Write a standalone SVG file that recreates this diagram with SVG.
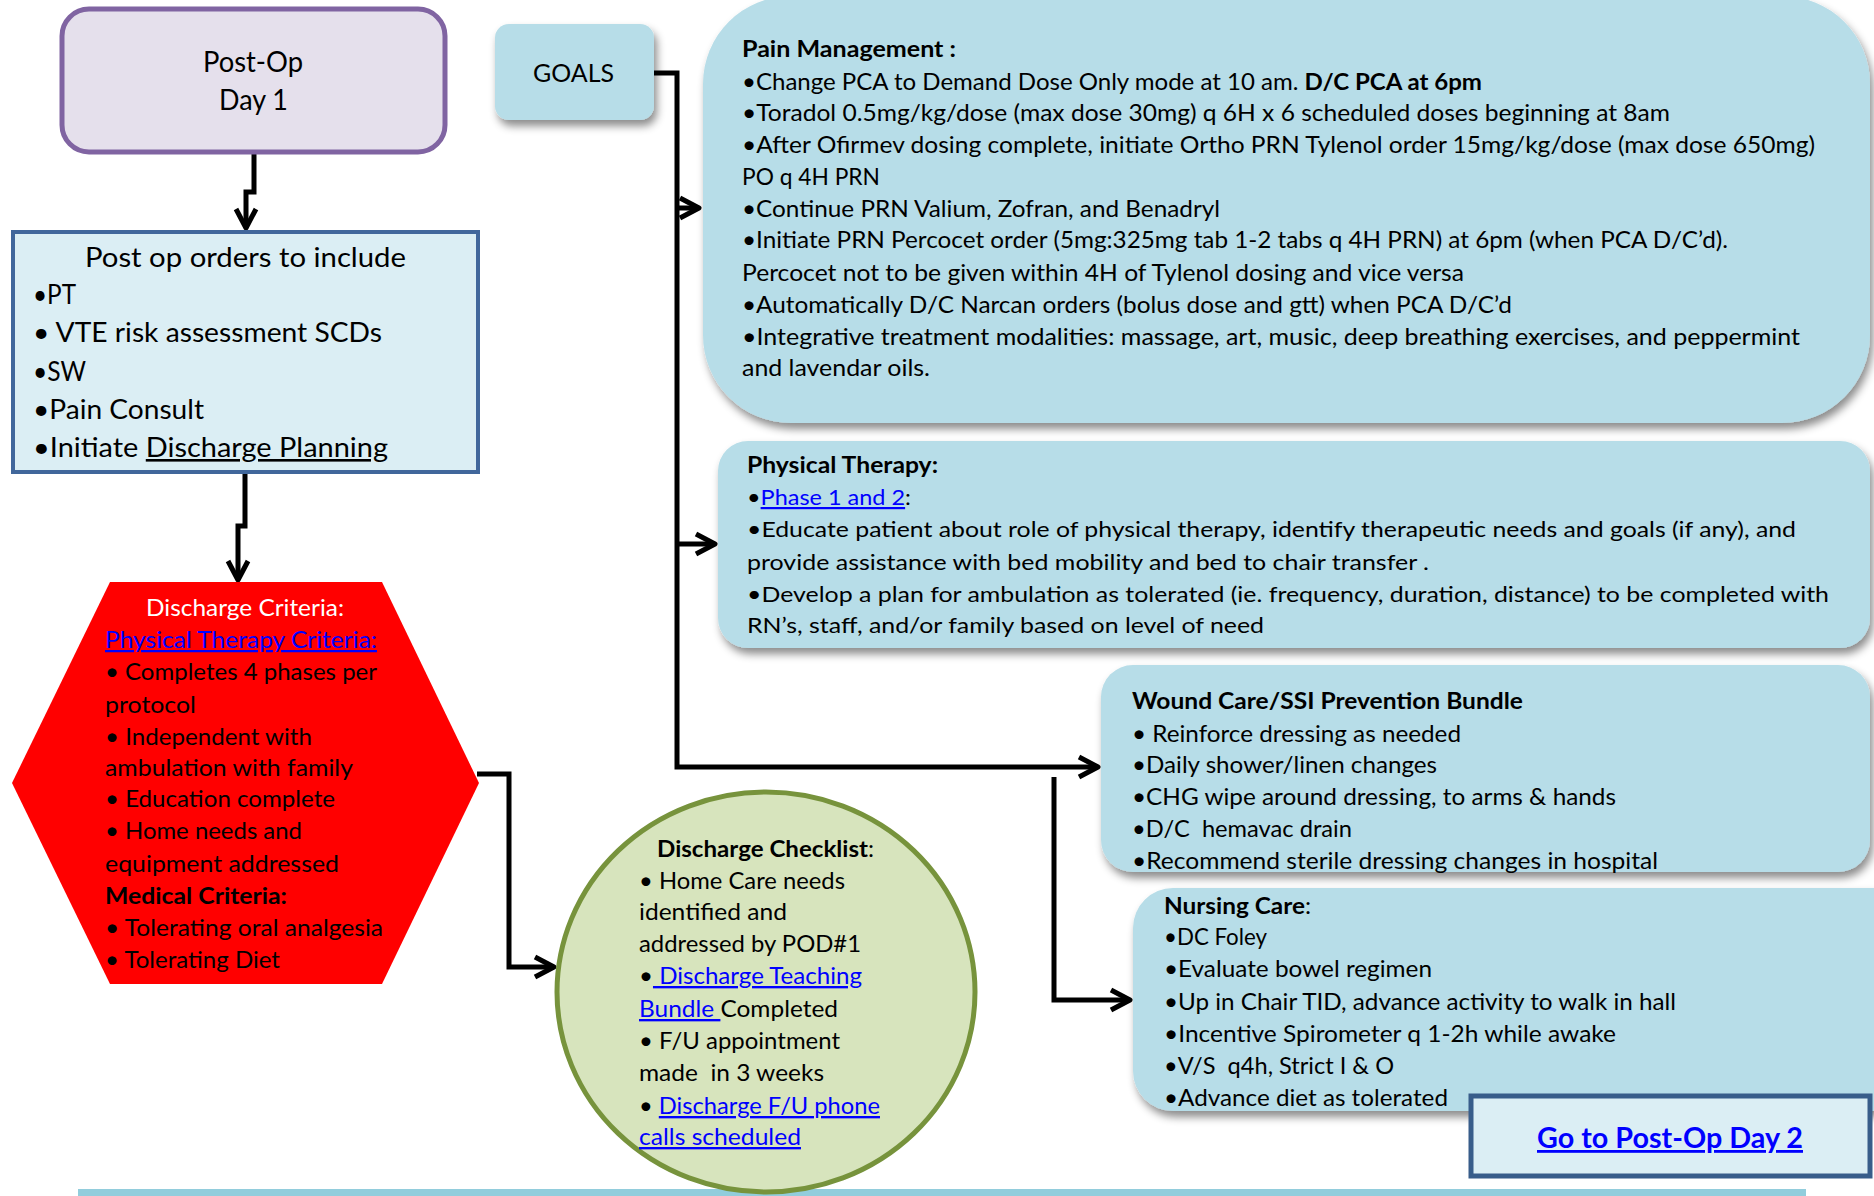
<svg xmlns="http://www.w3.org/2000/svg" width="1874" height="1196" viewBox="0 0 1874 1196">
  <defs>
    <style>
      text { font-family: Lato, "Open Sans", "DejaVu Sans", sans-serif; fill: #000; white-space: pre; }
      .b { font-weight: bold; }
      .r { font-weight: normal; }
      .lnk { fill: #0000ff; text-decoration: underline; }
      .wht { fill: #ffffff; }
      .f28 { font-size: 28px; }
      .f26 { font-size: 26px; }
      .f25 { font-size: 25px; }
      .f23 { font-size: 23px; }
      .f22 { font-size: 22px; }
      .f235 { font-size: 23.5px; }
      .f225 { font-size: 22.5px; }
      .card { fill: #b7dde8; filter: url(#shadow); }
      .conn { fill: none; stroke: #000; stroke-width: 5; stroke-linejoin: miter; }
    </style>
    <filter id="shadow" x="-5%" y="-10%" width="115%" height="130%">
      <feDropShadow dx="3" dy="6" stdDeviation="4" flood-color="#000" flood-opacity="0.45"/>
    </filter>
    <marker id="arrow" markerUnits="userSpaceOnUse" viewBox="0 0 26 26" markerWidth="26" markerHeight="26" refX="22" refY="13" orient="auto">
      <path d="M3,3 L22,13 L3,23" fill="none" stroke="#000" stroke-width="5" stroke-linejoin="round"/>
    </marker>
  </defs>

  <!-- footer rule -->
  <rect x="78" y="1189" width="1728" height="7" fill="#92cddc"/>

  <!-- connectors -->
  <g id="connectors">
    <path class="conn" d="M254,153 V192 H246 V228" marker-end="url(#arrow)"/>
    <path class="conn" d="M245,473 V526 H238 V580" marker-end="url(#arrow)"/>
    <path class="conn" d="M654,73 H677 V767 H1098" marker-end="url(#arrow)"/>
    <path class="conn" d="M677,208 H699" marker-end="url(#arrow)"/>
    <path class="conn" d="M677,544 H715" marker-end="url(#arrow)"/>
    <path class="conn" d="M1054,777 V1000 H1130" marker-end="url(#arrow)"/>
    <path class="conn" d="M477,774 H509 V967 H554" marker-end="url(#arrow)"/>
  </g>

  <!-- Post-Op Day 1 -->
  <g id="post-op-day1">
    <rect x="62" y="9" width="383" height="143" rx="27" fill="#e5e0ec" stroke="#8064a2" stroke-width="5"/>
    <text class="f28" x="203" y="72" textLength="100" lengthAdjust="spacingAndGlyphs">Post-Op</text>
    <text class="f28" x="219" y="110" textLength="69" lengthAdjust="spacingAndGlyphs">Day 1</text>
  </g>

  <!-- Post op orders -->
  <g id="post-op-orders">
    <rect x="13" y="232" width="465" height="240" fill="#dbeef4" stroke="#41679b" stroke-width="4"/>
    <text class="f26" x="85" y="267" textLength="321" lengthAdjust="spacingAndGlyphs">Post op orders to include</text>
    <text class="f26" x="33" y="304" textLength="43" lengthAdjust="spacingAndGlyphs">•PT</text>
    <text class="f26" x="33" y="342" textLength="349" lengthAdjust="spacingAndGlyphs">• VTE risk assessment SCDs</text>
    <text class="f26" x="33" y="381" textLength="53" lengthAdjust="spacingAndGlyphs">•SW</text>
    <text class="f26" x="33" y="419" textLength="171" lengthAdjust="spacingAndGlyphs">•Pain Consult</text>
    <text class="f26" x="33" y="457" textLength="355" lengthAdjust="spacingAndGlyphs">•Initiate <tspan style="text-decoration:underline">Discharge Planning</tspan></text>
  </g>

  <!-- Discharge criteria -->
  <g id="discharge-criteria">
    <polygon points="110,582 382,582 479,783 382,984 110,984 12,783" fill="#ff0000"/>
    <text class="f225 wht" x="146" y="616" textLength="198" lengthAdjust="spacingAndGlyphs">Discharge Criteria:</text>
    <text class="f225 lnk" x="105" y="648" textLength="272" lengthAdjust="spacingAndGlyphs">Physical Therapy Criteria:</text>
    <text class="f225" x="105" y="680" textLength="272" lengthAdjust="spacingAndGlyphs">• Completes 4 phases per</text>
    <text class="f225" x="105" y="713" textLength="91" lengthAdjust="spacingAndGlyphs">protocol</text>
    <text class="f225" x="105" y="745" textLength="207" lengthAdjust="spacingAndGlyphs">• Independent with</text>
    <text class="f225" x="105" y="776" textLength="248" lengthAdjust="spacingAndGlyphs">ambulation with family</text>
    <text class="f225" x="105" y="807" textLength="230" lengthAdjust="spacingAndGlyphs">• Education complete</text>
    <text class="f225" x="105" y="839" textLength="197" lengthAdjust="spacingAndGlyphs">• Home needs and</text>
    <text class="f225" x="105" y="872" textLength="234" lengthAdjust="spacingAndGlyphs">equipment addressed</text>
    <text class="f225 b" x="105" y="904" textLength="182" lengthAdjust="spacingAndGlyphs">Medical Criteria:</text>
    <text class="f225" x="105" y="936" textLength="278" lengthAdjust="spacingAndGlyphs">• Tolerating oral analgesia</text>
    <text class="f225" x="105" y="968" textLength="175" lengthAdjust="spacingAndGlyphs">• Tolerating Diet</text>
  </g>

  <!-- Discharge checklist -->
  <g id="discharge-checklist">
    <ellipse cx="766" cy="992" rx="209" ry="200" fill="#d7e4bd" stroke="#77933c" stroke-width="5"/>
    <text class="f235 b" x="657" y="857" textLength="217" lengthAdjust="spacingAndGlyphs">Discharge Checklist<tspan class="r">:</tspan></text>
    <text class="f235" x="639" y="889" textLength="206" lengthAdjust="spacingAndGlyphs">• Home Care needs</text>
    <text class="f235" x="639" y="920" textLength="148" lengthAdjust="spacingAndGlyphs">identified and</text>
    <text class="f235" x="639" y="952" textLength="222" lengthAdjust="spacingAndGlyphs">addressed by POD#1</text>
    <text class="f235" x="639" y="984" textLength="223" lengthAdjust="spacingAndGlyphs">•<tspan class="lnk"> Discharge Teaching</tspan></text>
    <text class="f235" x="639" y="1017" textLength="199" lengthAdjust="spacingAndGlyphs"><tspan class="lnk">Bundle </tspan>Completed</text>
    <text class="f235" x="639" y="1049" textLength="201" lengthAdjust="spacingAndGlyphs">• F/U appointment</text>
    <text class="f235" x="639" y="1081" textLength="185" lengthAdjust="spacingAndGlyphs">made  in 3 weeks</text>
    <text class="f235" x="639" y="1114" textLength="241" lengthAdjust="spacingAndGlyphs">• <tspan class="lnk">Discharge F/U phone</tspan></text>
    <text class="f235 lnk" x="639" y="1145" textLength="162" lengthAdjust="spacingAndGlyphs">calls scheduled</text>
  </g>

  <!-- Goals -->
  <g id="goals">
    <rect class="card" x="495" y="24" width="159" height="96" rx="14"/>
    <text class="f25" x="533" y="82" textLength="81" lengthAdjust="spacingAndGlyphs">GOALS</text>
  </g>

  <!-- Pain management -->
  <g id="pain-management">
    <rect class="card" x="703" y="-4" width="1167" height="427" rx="88"/>
    <text class="f23 b" x="742" y="57" textLength="214" lengthAdjust="spacingAndGlyphs">Pain Management :</text>
    <text class="f23" x="742" y="90" textLength="740" lengthAdjust="spacingAndGlyphs">•Change PCA to Demand Dose Only mode at 10 am. <tspan class="b">D/C PCA at 6pm</tspan></text>
    <text class="f23" x="742" y="121" textLength="928" lengthAdjust="spacingAndGlyphs">•Toradol 0.5mg/kg/dose (max dose 30mg) q 6H x 6 scheduled doses beginning at 8am</text>
    <text class="f23" x="742" y="153" textLength="1073" lengthAdjust="spacingAndGlyphs">•After Ofirmev dosing complete, initiate Ortho PRN Tylenol order 15mg/kg/dose (max dose 650mg)</text>
    <text class="f23" x="742" y="185" textLength="138" lengthAdjust="spacingAndGlyphs">PO q 4H PRN</text>
    <text class="f23" x="742" y="217" textLength="478" lengthAdjust="spacingAndGlyphs">•Continue PRN Valium, Zofran, and Benadryl</text>
    <text class="f23" x="742" y="248" textLength="986" lengthAdjust="spacingAndGlyphs">•Initiate PRN Percocet order (5mg:325mg tab 1-2 tabs q 4H PRN) at 6pm (when PCA D/C’d).</text>
    <text class="f23" x="742" y="281" textLength="722" lengthAdjust="spacingAndGlyphs">Percocet not to be given within 4H of Tylenol dosing and vice versa</text>
    <text class="f23" x="742" y="313" textLength="770" lengthAdjust="spacingAndGlyphs">•Automatically D/C Narcan orders (bolus dose and gtt) when PCA D/C’d</text>
    <text class="f23" x="742" y="345" textLength="1058" lengthAdjust="spacingAndGlyphs">•Integrative treatment modalities: massage, art, music, deep breathing exercises, and peppermint</text>
    <text class="f23" x="742" y="376" textLength="188" lengthAdjust="spacingAndGlyphs">and lavendar oils.</text>
  </g>

  <!-- Physical therapy -->
  <g id="physical-therapy">
    <rect class="card" x="718" y="441" width="1152" height="207" rx="30"/>
    <text class="f22 b" x="747" y="473" textLength="191" lengthAdjust="spacingAndGlyphs">Physical Therapy:</text>
    <text class="f22" x="747" y="505" textLength="164" lengthAdjust="spacingAndGlyphs">•<tspan class="lnk">Phase 1 and 2</tspan>:</text>
    <text class="f22" x="747" y="537" textLength="1049" lengthAdjust="spacingAndGlyphs">•Educate patient about role of physical therapy, identify therapeutic needs and goals (if any), and</text>
    <text class="f22" x="747" y="570" textLength="682" lengthAdjust="spacingAndGlyphs">provide assistance with bed mobility and bed to chair transfer .</text>
    <text class="f22" x="747" y="602" textLength="1082" lengthAdjust="spacingAndGlyphs">•Develop a plan for ambulation as tolerated (ie. frequency, duration, distance) to be completed with</text>
    <text class="f22" x="747" y="633" textLength="517" lengthAdjust="spacingAndGlyphs">RN’s, staff, and/or family based on level of need</text>
  </g>

  <!-- Wound care -->
  <g id="wound-care">
    <rect class="card" x="1101" y="665" width="769" height="207" rx="32"/>
    <text class="f23 b" x="1132" y="709" textLength="391" lengthAdjust="spacingAndGlyphs">Wound Care/SSI Prevention Bundle</text>
    <text class="f23" x="1132" y="742" textLength="329" lengthAdjust="spacingAndGlyphs">• Reinforce dressing as needed</text>
    <text class="f23" x="1132" y="773" textLength="305" lengthAdjust="spacingAndGlyphs">•Daily shower/linen changes</text>
    <text class="f23" x="1132" y="805" textLength="484" lengthAdjust="spacingAndGlyphs">•CHG wipe around dressing, to arms &amp; hands</text>
    <text class="f23" x="1132" y="837" textLength="220" lengthAdjust="spacingAndGlyphs">•D/C  hemavac drain</text>
    <text class="f23" x="1132" y="869" textLength="526" lengthAdjust="spacingAndGlyphs">•Recommend sterile dressing changes in hospital</text>
  </g>

  <!-- Nursing care -->
  <g id="nursing-care">
    <rect class="card" x="1133" y="888" width="790" height="223" rx="40"/>
    <text class="f23 b" x="1164" y="914" textLength="147" lengthAdjust="spacingAndGlyphs">Nursing Care<tspan class="r">:</tspan></text>
    <text class="f23" x="1164" y="945" textLength="103" lengthAdjust="spacingAndGlyphs">•DC Foley</text>
    <text class="f23" x="1164" y="977" textLength="268" lengthAdjust="spacingAndGlyphs">•Evaluate bowel regimen</text>
    <text class="f23" x="1164" y="1010" textLength="512" lengthAdjust="spacingAndGlyphs">•Up in Chair TID, advance activity to walk in hall</text>
    <text class="f23" x="1164" y="1042" textLength="452" lengthAdjust="spacingAndGlyphs">•Incentive Spirometer q 1-2h while awake</text>
    <text class="f23" x="1164" y="1074" textLength="230" lengthAdjust="spacingAndGlyphs">•V/S  q4h, Strict I &amp; O</text>
    <text class="f23" x="1164" y="1106" textLength="284" lengthAdjust="spacingAndGlyphs">•Advance diet as tolerated</text>
  </g>

  <!-- Link to next day -->
  <g id="next-day">
    <rect x="1471" y="1096" width="399" height="80" fill="#dbeef4" stroke="#385d8a" stroke-width="5"/>
    <text class="f28 b lnk" x="1537" y="1148" textLength="266" lengthAdjust="spacingAndGlyphs">Go to Post-Op Day 2</text>
  </g>
</svg>
